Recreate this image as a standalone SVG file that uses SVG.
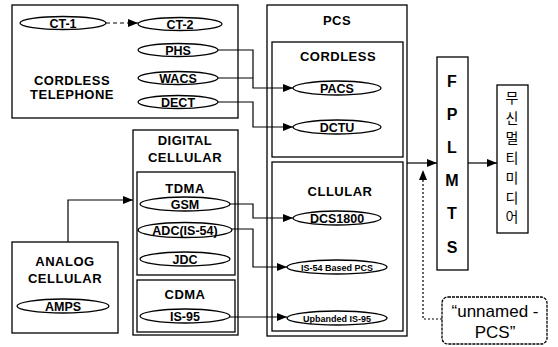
<svg xmlns="http://www.w3.org/2000/svg" width="558" height="347" viewBox="0 0 558 347">
<defs>
<marker id="ah" viewBox="0 0 10 8" refX="10" refY="4" markerWidth="10" markerHeight="8" markerUnits="userSpaceOnUse" orient="auto"><path d="M0,0 L10,4 L0,8 Z" fill="#000"/></marker>
<style>
.box{fill:#fff;stroke:#000;stroke-width:1.3}
.el{fill:#fff;stroke:#000;stroke-width:1.3}
.t{font-family:"Liberation Sans",Arial,sans-serif;font-weight:bold;fill:#000;text-anchor:middle}
.h{font-size:13px;letter-spacing:0.5px}
.e{font-size:12.5px}
.s{font-size:9px}
.big{font-size:16px}
.ko{font-family:"Noto Sans CJK KR","Noto Sans CJK JP",sans-serif;font-size:14px;text-anchor:middle;fill:#000}
.w{fill:none;stroke:#000;stroke-width:1.2}
</style>
</defs>
<rect width="558" height="347" fill="#fff"/>

<g id="cordless-telephone">
<rect class="box" x="12" y="5" width="226" height="113"/>
<text class="t h" x="72" y="85">CORDLESS</text>
<text class="t h" x="72" y="99">TELEPHONE</text>
</g>
<g id="ct1"><ellipse class="el" cx="63" cy="23" rx="43" ry="6.5"/><text class="t e" x="63" y="27.5">CT-1</text></g>
<g id="ct2"><ellipse class="el" cx="180" cy="24" rx="42" ry="6.5"/><text class="t e" x="180" y="28.5">CT-2</text></g>
<g id="phs"><ellipse class="el" cx="178" cy="50" rx="40" ry="6.5"/><text class="t e" x="178" y="54.5">PHS</text></g>
<g id="wacs"><ellipse class="el" cx="178" cy="78" rx="40" ry="6.5"/><text class="t e" x="178" y="82.5">WACS</text></g>
<g id="dect"><ellipse class="el" cx="178" cy="102" rx="40" ry="6.5"/><text class="t e" x="178" y="106.5">DECT</text></g>

<g id="digital-cellular">
<rect class="box" x="133" y="130" width="105" height="205"/>
<text class="t h" x="185" y="145">DIGITAL</text>
<text class="t h" x="185" y="162">CELLULAR</text>
</g>
<g id="tdma">
<rect class="box" x="137" y="172" width="98" height="103"/>
<text class="t h" x="185" y="193">TDMA</text>
</g>
<g id="gsm"><ellipse class="el" cx="185" cy="204" rx="45" ry="7"/><text class="t e" x="185" y="208.5">GSM</text></g>
<g id="adc"><ellipse class="el" cx="185" cy="230" rx="47" ry="7.5"/><text class="t e" x="185" y="234.5">ADC(IS-54)</text></g>
<g id="jdc"><ellipse class="el" cx="185" cy="259" rx="45" ry="7"/><text class="t e" x="185" y="263.5">JDC</text></g>
<g id="cdma">
<rect class="box" x="137" y="280" width="98" height="52"/>
<text class="t h" x="185" y="299">CDMA</text>
</g>
<g id="is95"><ellipse class="el" cx="185" cy="316" rx="45" ry="7"/><text class="t e" x="185" y="320.5">IS-95</text></g>

<g id="analog-cellular">
<rect class="box" x="12" y="242" width="106" height="91"/>
<text class="t h" x="65" y="266">ANALOG</text>
<text class="t h" x="65" y="283">CELLULAR</text>
</g>
<g id="amps"><ellipse class="el" cx="63" cy="306" rx="46" ry="7"/><text class="t e" x="63" y="310.5">AMPS</text></g>

<g id="pcs">
<rect class="box" x="267" y="5" width="140" height="331"/>
<text class="t h" x="337" y="25">PCS</text>
</g>
<g id="pcs-cordless">
<rect class="box" x="272" y="42" width="131" height="115"/>
<text class="t h" x="338" y="61">CORDLESS</text>
</g>
<g id="pacs"><ellipse class="el" cx="337" cy="88" rx="44" ry="7"/><text class="t e" x="337" y="92.5">PACS</text></g>
<g id="dctu"><ellipse class="el" cx="337" cy="127" rx="44" ry="7"/><text class="t e" x="337" y="131.5">DCTU</text></g>
<g id="pcs-cellular">
<rect class="box" x="272" y="162" width="131" height="169"/>
<text class="t h" x="340" y="196">CLLULAR</text>
</g>
<g id="dcs1800"><ellipse class="el" cx="337" cy="218" rx="44" ry="7"/><text class="t e" x="337" y="222.5">DCS1800</text></g>
<g id="is54pcs"><ellipse class="el" cx="337" cy="267" rx="50" ry="7"/><text class="t s" x="337" y="270.5">IS-54 Based PCS</text></g>
<g id="upbanded"><ellipse class="el" cx="337" cy="318" rx="50" ry="7"/><text class="t s" x="337" y="321.5">Upbanded IS-95</text></g>

<g id="fplmts">
<rect class="box" x="437" y="57" width="31" height="213"/>
<text class="t big" x="452" y="87">F</text>
<text class="t big" x="452" y="120">P</text>
<text class="t big" x="452" y="153">L</text>
<text class="t big" x="452" y="186">M</text>
<text class="t big" x="452" y="219">T</text>
<text class="t big" x="452" y="253">S</text>
</g>
<g id="wireless-multimedia">
<rect class="box" x="497" y="85" width="31" height="148"/>
<text class="ko" x="512" y="103">무</text>
<text class="ko" x="512" y="123">신</text>
<text class="ko" x="512" y="143">멀</text>
<text class="ko" x="512" y="163">티</text>
<text class="ko" x="512" y="183">미</text>
<text class="ko" x="512" y="203">디</text>
<text class="ko" x="512" y="222">어</text>
</g>
<g id="unnamed-pcs">
<rect class="box" x="442" y="297" width="105" height="47" rx="6" stroke-dasharray="3,1"/>
<text x="495" y="317" font-family="Liberation Sans, Arial, sans-serif" font-size="17" text-anchor="middle">“unnamed -</text>
<text x="495" y="338" font-family="Liberation Sans, Arial, sans-serif" font-size="17" text-anchor="middle">PCS”</text>
</g>

<g id="connectors">
<path class="w" d="M106,23 H138" stroke-dasharray="4,3" marker-end="url(#ah)"/>
<path class="w" d="M218,50 H253 V88 H293" marker-end="url(#ah)"/>
<path class="w" d="M218,78 H253"/>
<path class="w" d="M218,102 H253 V127 H293" marker-end="url(#ah)"/>
<path class="w" d="M230,204 H253 V218 H293" marker-end="url(#ah)"/>
<path class="w" d="M232,229 H253 V267 H287" marker-end="url(#ah)"/>
<path class="w" d="M230,317 H287" marker-end="url(#ah)"/>
<path class="w" d="M68,242 V200 H133" marker-end="url(#ah)"/>
<path class="w" d="M407,163 H437" marker-end="url(#ah)"/>
<path class="w" d="M468,163 H497" marker-end="url(#ah)"/>
<path class="w" d="M442,319 H423 V170" stroke-dasharray="2,2" marker-end="url(#ah)"/>
</g>
</svg>
